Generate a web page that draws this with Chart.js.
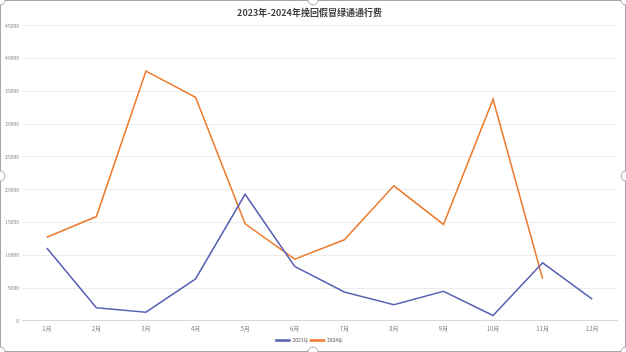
<!DOCTYPE html>
<html>
<head>
<meta charset="utf-8">
<script src="https://cdn.jsdelivr.net/npm/chart.js@4"></script>
<style>
  html, body { margin: 0; padding: 0; background: #fff; }
  #wrap { width: 626px; height: 352px; position: relative; }
</style>
</head>
<body>
<div id="wrap"><canvas id="grafica"></canvas></div>
<script>
// 月份 + 两年的数据
const meses = ["1月", "2月", "3月", "4月", "5月", "6月", "7月", "8月", "9月", "10月", "11月", "12月"];
const serie2023 = [11100, 2000, 1300, 6400, 19300, 8300, 4400, 2450, 4500, 800, 8850, 3300];
const serie2024 = [12750, 15900, 38100, 34100, 14800, 9400, 12350, 20600, 14700, 33800, 6400, null];
const yTicks = [0, 5000, 10000, 15000, 20000, 25000, 30000, 35000, 40000, 45000];

const fuente = "'Noto Sans CJK SC', 'Noto Sans', sans-serif";

// marco gris con los tiradores de selección (como la captura)
const marco = {
  id: "marco",
  afterDraw(chart) {
    const c = chart.ctx;
    const w = chart.width, h = chart.height;
    c.save();
    c.strokeStyle = "#a6a6a6";
    c.lineWidth = 1;
    c.strokeRect(0.5, 0.5, w - 1, h - 1);
    c.fillStyle = "#fff";
    [[0, 0], [w / 2, 0], [w, 0], [0, h / 2], [w, h / 2], [0, h], [w / 2, h], [w, h]].forEach(([x, y]) => {
      c.beginPath();
      c.arc(x, y, 5, 0, Math.PI * 2);
      c.fill();
      c.stroke();
    });
    c.restore();
  }
};

const ctx = document.getElementById("grafica").getContext("2d");
new Chart(ctx, {
  type: "line",
  data: {
    labels: meses,
    datasets: [
      {
        label: "2023年",
        data: serie2023,
        borderColor: "#5a64b4",
        backgroundColor: "#5a64b4",
        borderWidth: 1.6,
        pointRadius: 0,
        tension: 0
      },
      {
        label: "2024年",
        data: serie2024,
        borderColor: "#ed7d31",
        backgroundColor: "#ed7d31",
        borderWidth: 1.6,
        pointRadius: 0,
        tension: 0
      }
    ]
  },
  plugins: [marco],
  options: {
    responsive: true,
    maintainAspectRatio: false,
    animation: false,
    layout: { padding: { left: 2, right: 9, top: 4, bottom: -1 } },
    plugins: {
      title: {
        display: true,
        text: "2023年-2024年挽回假冒绿通通行费",
        color: "#404040",
        font: { family: fuente, size: 9, weight: "bold" },
        padding: { top: 3, bottom: 8 }
      },
      legend: {
        position: "bottom",
        labels: {
          color: "#595959",
          font: { family: fuente, size: 5 },
          boxWidth: 14,
          boxHeight: 1,
          padding: 2
        }
      },
      tooltip: { enabled: false }
    },
    scales: {
      x: {
        offset: true,
        grid: { display: false, drawTicks: false },
        border: { color: "#d9d9d9" },
        ticks: {
          color: "#7f7f7f",
          font: { family: fuente, size: 6 },
          padding: 4,
          maxRotation: 0
        }
      },
      y: {
        min: 0,
        max: 45000,
        afterBuildTicks(axis) { axis.ticks = yTicks.map(v => ({ value: v })); },
        afterFit(axis) { axis.width = 20; },
        grid: { color: "#ececec", drawTicks: false },
        border: { display: false },
        ticks: {
          color: "#7f7f7f",
          font: { family: fuente, size: 5 },
          padding: 3,
          callback: v => String(v)
        }
      }
    }
  }
});
</script>
</body>
</html>
